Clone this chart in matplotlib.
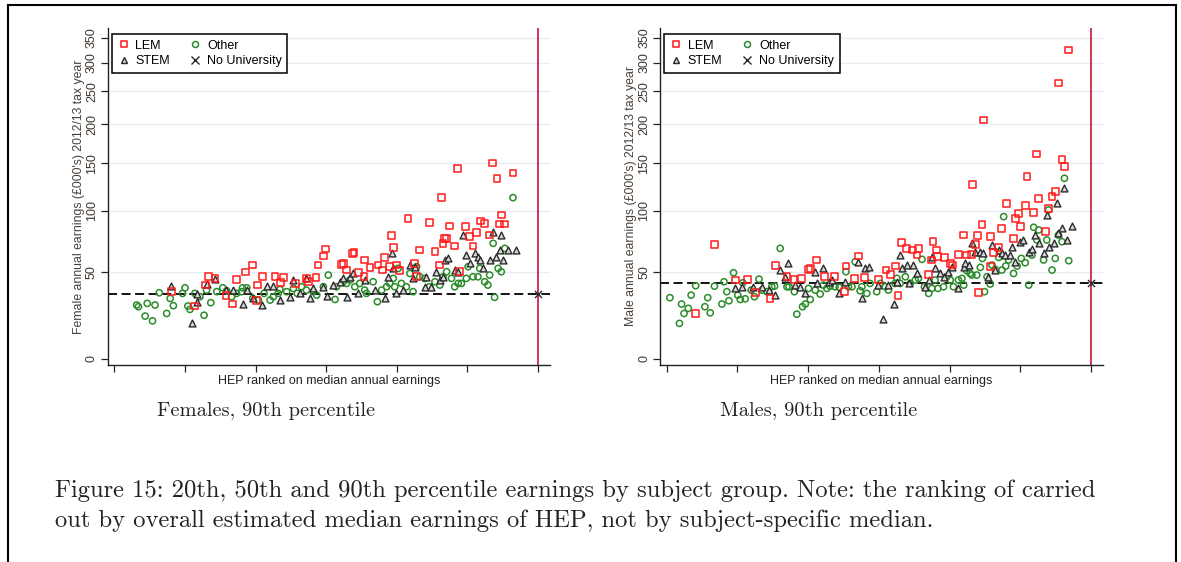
import numpy as np
import matplotlib
matplotlib.use("Agg")
import matplotlib.pyplot as plt
from matplotlib.lines import Line2D

plt.rcParams['font.family'] = ['Liberation Sans', 'DejaVu Sans']

# ---------------- data (HEP rank, earnings in £000s) ----------------
f_lem_x = [16.2,22.8,25.9,26.6,28.5,31.6,33.5,34.6,37.2,39.2,40.5,40.3,42.0,45.5,47.1,48.0,51.4,54.4,54.9,57.1,
           57.7,59.2,59.9,64.3,64.8,65.8,67.5,67.9,69.1,70.9,70.7,72.4,74.7,75.9,76.6,78.0,78.5,79.0,79.9,80.8,
           83.2,85.1,85.6,86.5,89.3,90.8,92.0,92.6,93.1,93.6,94.1,95.0,96.4,97.1,97.8,99.5,100.5,101.6,102.5,103.7,
           104.9,106.3,107.1,108.4,109.2,109.6,110.6,112.9]
f_lem_y = [36.8,27.9,41.1,46.7,45.6,34.6,29.1,44.9,50.0,55.0,41.1,31.5,46.7,46.7,42.9,46.0,42.2,45.6,43.3,46.0,
           55.0,61.7,67.1,55.5,56.2,51.4,63.7,64.5,49.5,58.7,46.7,53.1,55.0,51.4,60.7,53.8,78.2,68.1,55.0,50.9,
           93.0,56.2,46.7,66.3,89.1,65.0,55.0,112.6,71.6,75.7,75.7,86.2,69.4,144,50.2,85.6,77.1,69.4,80.4,90.6,
           88.5,78.4,150,132.5,87.9,96,87.9,138.7]

f_stem_x = [16.0,22.1,23.3,23.5,26.1,28.5,31.6,33.7,36.5,37.5,39.3,41.7,43.1,45.0,46.9,49.7,50.7,52.5,54.4,55.4,
            56.3,59.2,60.1,62.0,63.9,64.8,65.8,66.7,67.6,69.1,70.9,73.8,76.6,77.5,78.5,79.0,79.9,81.8,83.7,84.6,
            85.1,87.9,88.4,89.8,91.2,92.2,93.1,93.6,94.5,96.4,97.4,98.8,99.7,100.7,102.1,103.0,103.5,104.4,106.3,107.3,
            108.2,109.2,109.6,110.1,111.5,113.9]
f_stem_y = [40.7,17.9,30.5,35.3,41.5,44.9,38.2,38.2,29.1,38.2,32.5,28.5,40.7,40.4,31.5,33.6,44.5,35.7,45.6,32.5,
            38.9,40.0,34.0,41.1,43.3,45.6,33.6,46.7,49.0,35.7,44.5,37.8,32.5,46.7,63.7,52.6,35.7,37.8,55.0,45.6,
            53.8,40.0,46.7,40.0,50.2,44.5,46.7,58.7,59.9,51.4,50.2,78.4,62.4,56.2,63.7,61.2,58.7,52.6,58.7,81.3,
            61.2,66.3,78.4,58.7,66.3,66.3]

f_oth_x = [6.3,6.8,9.3,11.5,8.7,10.8,12.7,14.8,15.8,16.7,19.3,20.0,20.8,21.4,25.4,27.3,26.1,22.8,24.2,29.0,
           30.7,31.8,33.2,34.6,36.0,36.3,37.5,39.2,40.8,42.4,44.1,45.0,46.4,46.9,48.8,50.7,51.8,53.0,54.4,56.3,
           57.3,59.2,60.6,62.5,62.9,64.8,65.8,66.7,68.1,69.5,70.9,71.4,73.3,74.5,75.7,77.1,78.0,79.0,80.4,79.4,
           81.3,82.7,83.7,84.6,85.6,86.5,87.9,89.3,90.8,92.2,93.1,94.1,95.5,96.4,97.4,98.3,99.7,100.2,101.6,103.0,
           103.5,104.9,105.8,106.3,107.3,107.7,108.7,109.6,110.6,112.9]
f_oth_y = [28.5,27.5,29.5,28.5,22.0,19.3,36.1,23.5,32.5,28.1,35.7,39.3,27.9,25.9,22.5,29.9,37.8,35.7,33.6,36.8,
           39.3,37.4,33.6,35.7,36.8,39.3,39.3,32.5,31.5,35.7,31.5,33.6,35.7,38.2,36.8,38.9,35.7,40.0,37.8,36.8,
           34.6,40.0,47.9,31.9,40.0,43.3,42.2,44.5,40.0,42.2,37.8,35.7,43.3,30.5,37.8,40.0,42.2,45.6,52.6,40.0,
           42.2,40.0,49.0,36.8,53.8,46.7,45.6,40.0,43.3,41.1,46.7,50.2,45.6,40.0,42.2,42.2,45.6,53.8,46.7,46.7,
           52.6,43.3,41.1,47.9,71.6,33.2,52.6,50.2,67.6,112.6]

m_lem_x = [8.2,13.5,19.5,22.8,25.0,29.2,30.7,34.0,36.0,38.2,40.1,40.6,42.3,44.6,47.5,50.3,50.7,53.1,54.2,55.9,
           59.9,62.0,63.2,64.6,65.4,66.5,67.9,69.5,70.8,71.2,74.1,74.8,75.3,76.2,76.7,78.6,80.2,80.8,82.5,84.0,
           84.9,86.1,86.5,87.3,88.2,88.0,89.2,89.6,91.5,91.5,92.5,93.9,94.8,96.2,98.1,98.6,99.5,100.0,101.4,101.9,
           103.8,104.7,105.2,107.1,108.0,109.0,109.9,110.7,111.8,112.5,113.7]
m_lem_y = [23.5,70.8,44.5,44.9,36.1,32.5,54.5,46.7,44.9,45.6,51.9,52.6,58.7,46.7,46.7,36.8,54.3,45.6,61.7,46.0,
           44.9,51.4,48.3,54.3,34.2,72.2,67.6,66.3,62.4,67.6,48.5,58.7,72.9,66.3,61.2,60.7,56.2,55.0,62.9,78.4,
           62.4,62.9,126,70.8,36.1,77.9,87.6,206,77.1,53.8,64.5,68.4,84.1,107,75.7,93.0,97,85.6,104.8,134.6,
           98.5,161,111.5,81.3,102,113.6,118.7,264,154.5,146,325]

m_stem_x = [19.3,21.2,24.5,26.9,28.8,30.7,32.1,33.5,34.2,36.3,37.7,39.2,42.0,42.5,44.3,45.8,46.7,48.6,50.5,54.2,
            55.2,56.1,57.1,59.9,61.3,62.7,64.2,65.1,66.0,66.5,67.9,68.4,69.8,70.8,73.1,74.1,75.0,75.9,77.4,78.3,
            79.7,80.7,82.5,84.0,84.4,85.4,86.3,87.3,88.7,89.6,91.0,92.0,92.9,93.9,94.8,95.8,97.2,97.6,98.6,100.0,
            100.9,102.4,103.3,104.2,105.2,106.6,107.5,108.0,109.4,110.4,110.8,111.8,112.3,113.2,114.6]
m_stem_y = [38.9,40.0,40.0,40.0,37.8,34.6,51.4,46.7,56.2,41.1,40.0,35.7,50.2,42.2,52.6,43.3,44.5,35.7,43.3,57.4,
            33.0,52.6,53.8,41.1,20.3,41.1,29.1,43.3,62.4,52.6,55.0,42.2,55.0,49.0,40.0,44.5,60.7,52.6,49.0,46.7,
            50.2,53.3,38.9,53.8,56.7,55.0,71.6,65.0,65.0,63.7,46.7,70.3,51.4,66.3,63.7,62.4,62.4,68.9,57.4,72.9,
            74.3,65.0,66.8,78.4,71.6,63.7,96,68.9,72.1,107,79.9,84.1,122,74.3,86.2]

m_oth_x = [0.9,3.6,4.2,4.9,6.1,6.9,8.2,10.8,11.6,12.3,13.5,15.6,16.2,17.0,17.6,18.9,20.1,20.8,21.5,22.2,
           23.9,24.8,26.1,26.9,28.3,29.7,30.5,32.1,34.0,34.6,36.1,36.8,38.4,39.2,40.1,40.6,42.0,43.4,44.3,45.3,
           46.2,47.6,48.8,50.7,51.4,52.4,53.3,54.7,55.2,56.6,57.5,59.4,60.4,61.8,62.7,64.6,65.1,66.0,67.5,68.9,
           70.3,71.2,72.2,72.9,74.1,75.0,75.9,76.7,78.3,79.2,80.2,81.1,82.5,83.5,84.0,84.9,85.8,86.3,87.7,88.7,
           89.3,89.9,90.6,91.5,92.0,92.9,93.9,94.8,95.3,95.9,96.7,98.1,99.1,100.3,101.4,102.4,103.3,103.8,104.7,105.2,
           106.6,107.5,108.0,109.0,109.9,110.8,111.8,112.5,113.7]
m_oth_y = [33.0,17.9,29.1,23.5,26.5,34.6,40.7,27.5,33.0,23.9,40.4,29.1,43.3,36.8,31.1,49.5,34.6,31.9,42.6,32.3,
           37.8,33.6,45.1,37.8,36.8,40.0,40.4,67.6,40.0,40.0,36.8,23.1,27.5,29.1,38.9,31.9,37.8,35.3,41.1,38.9,
           40.4,40.0,39.6,50.2,40.0,40.0,57.4,37.4,40.0,35.7,42.2,36.8,42.2,40.0,37.8,42.2,45.6,42.2,46.7,42.2,
           44.5,45.6,59.2,40.0,35.7,38.9,44.5,38.9,40.0,46.7,44.5,40.0,44.5,45.6,41.1,50.9,49.0,47.9,47.9,53.3,
           59.9,36.8,46.7,41.8,55.0,51.9,60.7,51.4,94.5,54.3,58.7,49.0,54.3,59.9,56.7,41.1,62.4,85.0,74.3,82.7,
           58.7,74.3,100.7,51.4,59.9,78.4,72.9,132.8,58.2]

no_uni_rank = 120
f_no_uni = 35.5
m_no_uni = 42.5

y_ticks = [0, 50, 100, 150, 200, 250, 300, 350]
x_ticks = [0, 20, 40, 60, 80, 100, 120]

panels = [
    dict(lem=(f_lem_x, f_lem_y), stem=(f_stem_x, f_stem_y), oth=(f_oth_x, f_oth_y), nu=f_no_uni,
         ylabel="Female annual earnings (£000's) 2012/13 tax year", sub="Females, 90th percentile",
         rect=[107.7, 28, 550, 365]),
    dict(lem=(m_lem_x, m_lem_y), stem=(m_stem_x, m_stem_y), oth=(m_oth_x, m_oth_y), nu=m_no_uni,
         ylabel="Male annual earnings (£000's) 2012/13 tax year", sub="Males, 90th percentile",
         rect=[660, 28, 1103, 365]),
]

W, H = 1181, 562
fig = plt.figure(figsize=(W / 100, H / 100), dpi=100)
fig.patch.set_facecolor('white')

RED = '#ff1a1a'
GREEN = '#2a8c2a'
GREY = '#2a2a2a'
LABC = '#4a3f36'

fwd = lambda v: np.log(np.asarray(v, dtype=float) + 100.0)
inv = lambda v: np.exp(np.asarray(v, dtype=float)) - 100.0

for p in panels:
    l, t, r, b = p['rect']
    ax = fig.add_axes([l / W, 1 - b / H, (r - l) / W, (b - t) / H])
    ax.set_yscale('function', functions=(fwd, inv))
    ax.set_ylim(-3, 371)
    ax.set_xlim(-1.9, 123.4)

    for yt in y_ticks[1:]:
        ax.axhline(yt, color='#e6eef2', lw=1.0, zorder=0)

    ax.axhline(p['nu'], color='black', lw=1.3, ls=(0, (5, 2.5)), zorder=1)
    ax.axvline(no_uni_rank, color='#c8143c', lw=1.2, zorder=1)

    ax.scatter(*p['oth'], marker='o', s=20, facecolors='none', edgecolors=GREEN, linewidths=1.1, zorder=3)
    ax.scatter(*p['stem'], marker='^', s=24, facecolors='#d8d8d8', edgecolors=GREY, linewidths=1.0, zorder=4)
    ax.scatter(*p['lem'], marker='s', s=24, facecolors='none', edgecolors=RED, linewidths=1.1, zorder=5)
    ax.scatter([no_uni_rank], [p['nu']], marker='x', s=26, color=GREY, linewidths=1.0, zorder=6)

    for side in ['top', 'right']:
        ax.spines[side].set_visible(False)
    for side in ['left', 'bottom']:
        ax.spines[side].set_linewidth(1.0)
        ax.spines[side].set_color('#222222')

    ax.set_yticks(y_ticks)
    ax.set_yticklabels([str(v) for v in y_ticks], rotation=90, va='center', ha='right',
                       fontsize=9, color='#3d342c')
    ax.yaxis.set_minor_locator(matplotlib.ticker.NullLocator())
    ax.set_xticks(x_ticks)
    ax.set_xticklabels([])
    ax.tick_params(axis='both', direction='out', length=5, width=0.9, color='#222222', pad=2)

    ax.set_ylabel(p['ylabel'], fontsize=8.8, color=LABC, labelpad=1)
    ax.set_xlabel("HEP ranked on median annual earnings", fontsize=9, color='#222222', labelpad=0)

    h = [Line2D([], [], ls='none', marker='s', ms=4.8, mfc='none', mec=RED, mew=1.1),
         Line2D([], [], ls='none', marker='^', ms=4.8, mfc='#d8d8d8', mec=GREY, mew=1.0),
         Line2D([], [], ls='none', marker='o', ms=4.3, mfc='none', mec=GREEN, mew=1.1),
         Line2D([], [], ls='none', marker='x', ms=5.2, mec=GREY, mew=1.0)]
    leg = ax.legend(h, ['LEM', 'STEM', 'Other', 'No University'], ncol=2, loc='upper left',
                    bbox_to_anchor=(0.009, 0.982), borderaxespad=0, fontsize=9, frameon=True,
                    fancybox=False, edgecolor='black', framealpha=1, borderpad=0.45,
                    handletextpad=0.45, columnspacing=1.5, handlelength=1.0, labelspacing=0.3)
    leg.get_frame().set_linewidth(1.1)

    fig.text(((l + r) / 2 - 63) / W, 1 - 411 / H, p['sub'], family='cmr10', fontsize=14.7,
             ha='center', va='center', color='#222222')

fig.text(55 / W, 1 - 491 / H,
         "Figure 15: 20th, 50th and 90th percentile earnings by subject group. Note: the ranking of carried",
         family='cmr10', fontsize=17.7, ha='left', va='center', color='#222222')
fig.text(55 / W, 1 - 521 / H,
         "out by overall estimated median earnings of HEP, not by subject-specific median.",
         family='cmr10', fontsize=17.7, ha='left', va='center', color='#222222')

# page border
fig.add_artist(Line2D([8 / W, 8 / W], [0, 1 - 5 / H], color='black', lw=1.5, transform=fig.transFigure))
fig.add_artist(Line2D([1176 / W, 1176 / W], [0, 1 - 5 / H], color='black', lw=1.5, transform=fig.transFigure))
fig.add_artist(Line2D([8 / W, 1176 / W], [1 - 5 / H, 1 - 5 / H], color='black', lw=1.5, transform=fig.transFigure))

fig.savefig('out.png', dpi=100, facecolor='white')
